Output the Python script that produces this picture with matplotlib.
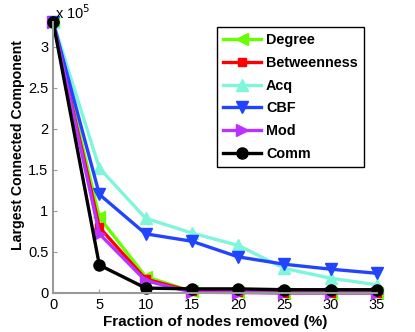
import matplotlib

matplotlib.use("Agg")
import matplotlib.pyplot as plt  # noqa: E402

plt.rcParams["font.family"] = ["Liberation Sans", "DejaVu Sans"]

# Fraction of nodes removed (%)
fractions = [0, 5, 10, 15, 20, 25, 30, 35]

# Largest connected component (x 10^5)
degree = [3.3, 0.92, 0.20, 0.02, 0.01, 0.005, 0.005, 0.005]
betweenness = [3.3, 0.80, 0.17, 0.02, 0.01, 0.005, 0.005, 0.005]
acq = [3.3, 1.52, 0.91, 0.73, 0.58, 0.30, 0.18, 0.10]
cbf = [3.3, 1.20, 0.72, 0.63, 0.44, 0.35, 0.29, 0.24]
mod = [3.3, 0.72, 0.15, 0.01, 0.005, 0.0, 0.0, 0.0]
comm = [3.3, 0.34, 0.06, 0.05, 0.05, 0.04, 0.04, 0.04]

series = [
    ("Degree", degree, "#66ff00", "<"),
    ("Betweenness", betweenness, "#ff0000", "s"),
    ("Acq", acq, "#7ff5dc", "^"),
    ("CBF", cbf, "#2244ff", "v"),
    ("Mod", mod, "#b833ff", ">"),
    ("Comm", comm, "#000000", "o"),
]

fig = plt.figure(figsize=(4.15, 3.32), dpi=100)
ax = fig.add_axes([0.128, 0.1175, 0.78, 0.8165])

for name, vals, color, marker in series:
    ax.plot(fractions, [v * 1e5 for v in vals], color=color, marker=marker,
            markersize=8 if marker != "s" else 6, linewidth=2.4, label=name,
            clip_on=False)

ax.set_xlim(0, 35)
ax.set_ylim(0, 3.3e5)
ax.set_xticks(fractions)
ax.set_yticks([0, 0.5e5, 1e5, 1.5e5, 2e5, 2.5e5, 3e5])
ax.set_yticklabels(["0", "0.5", "1", "1.5", "2", "2.5", "3"])
ax.tick_params(direction="in", length=3, color="#999999", labelsize=10.5)
for side in ("top", "right"):
    ax.spines[side].set_visible(False)
for side in ("left", "bottom"):
    ax.spines[side].set_color("#999999")
    ax.spines[side].set_linewidth(1.5)

ax.text(0.005, 1.0, r"x 10$^5$", transform=ax.transAxes, fontsize=10.5,
        ha="left", va="bottom")

ax.set_xlabel("Fraction of nodes removed (%)", fontsize=11, fontweight="bold", labelpad=2)
ax.set_ylabel("Largest Connected Component", fontsize=10.2, fontweight="bold")
ax.yaxis.set_label_coords(-0.087, 0.546)

leg = ax.legend(loc="upper left", bbox_to_anchor=(0.506, 0.9815), borderaxespad=0,
                prop={"weight": "bold", "size": 10.4}, fancybox=False,
                framealpha=1, edgecolor="#000000", handlelength=2.6,
                labelspacing=0.6, borderpad=0.45, handletextpad=0.34)
leg.get_frame().set_linewidth(1.0)

fig.savefig("out.png", dpi=100)
